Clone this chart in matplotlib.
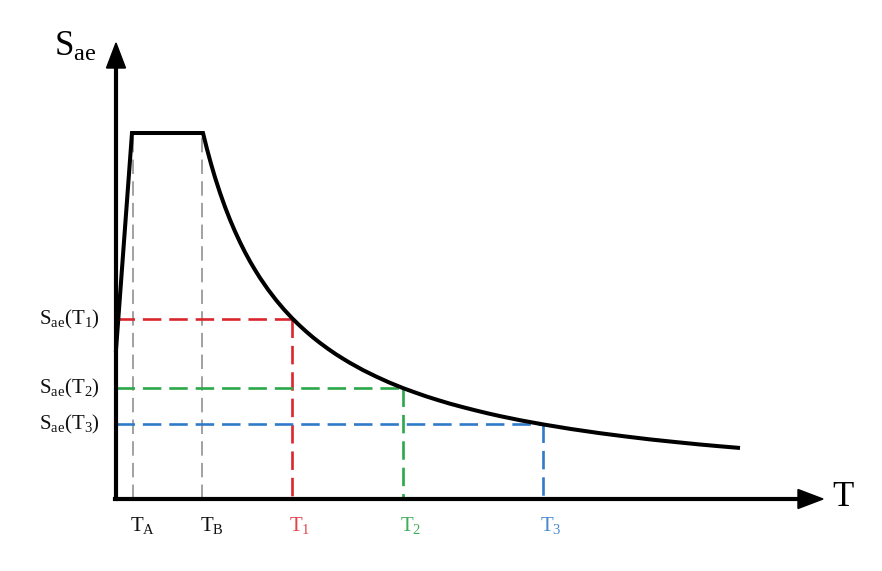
import matplotlib
matplotlib.use("Agg")
import matplotlib.pyplot as plt
from matplotlib.patches import Polygon

plt.rcParams['font.family'] = ['Liberation Serif', 'DejaVu Serif']
plt.rcParams['mathtext.fontset'] = 'custom'
plt.rcParams['mathtext.rm'] = 'Liberation Serif'
plt.rcParams['mathtext.it'] = 'Liberation Serif'

# Spectrum curve (T, Sae)
T_curve = [0.00, 0.16, 0.87, 0.91, 0.95, 0.99, 1.04, 1.09, 1.14, 1.19, 1.24, 1.29,
           1.34, 1.39, 1.44, 1.52, 1.60, 1.68, 1.76, 1.83, 1.90, 1.97, 2.04, 2.12,
           2.20, 2.27, 2.34, 2.47, 2.60, 2.73, 2.87, 2.98, 3.10, 3.22, 3.34, 3.47,
           3.60, 3.72, 3.84, 4.05, 4.27, 4.55, 4.84, 5.09, 5.34, 5.59, 5.84, 6.03,
           6.22]
Sae_curve = [1.490, 3.660, 3.660, 3.499, 3.352, 3.216, 3.062, 2.921, 2.793, 2.676,
             2.568, 2.468, 2.376, 2.291, 2.211, 2.095, 1.990, 1.895, 1.809, 1.740,
             1.676, 1.616, 1.561, 1.502, 1.447, 1.403, 1.361, 1.289, 1.225, 1.166,
             1.109, 1.069, 1.027, 0.989, 0.953, 0.918, 0.885, 0.856, 0.829, 0.786,
             0.746, 0.700, 0.658, 0.626, 0.596, 0.570, 0.545, 0.528, 0.512]

TA, TB = 0.17, 0.86
T_marks = [1.76, 2.87, 4.27]
Sae_marks = [1.80, 1.11, 0.75]
mark_colors = ['#D9262C', '#2BA84A', '#2F7BC8']
label_colors = ['#E0464C', '#3DAE5A', '#4A8ACC']
T_labels = [r'$\mathrm{T_1}$', r'$\mathrm{T_2}$', r'$\mathrm{T_3}$']
S_labels = [r'$\mathrm{S_{ae}(T_1)}$', r'$\mathrm{S_{ae}(T_2)}$', r'$\mathrm{S_{ae}(T_3)}$']

fig = plt.figure(figsize=(8.82, 5.71), dpi=100)
ax = fig.add_axes([0, 0, 1, 1])
ax.set_xlim(-1.16, 7.66)
ax.set_ylim(-0.72, 4.99)
ax.axis('off')

# gray dashed guides at TA, TB
for t in (TA, TB):
    ax.plot([t, t], [0, 3.66], color='#9a9a9a', lw=1.3, dashes=(8, 4), zorder=1)

# colored dashed guides
for t, s, c in zip(T_marks, Sae_marks, mark_colors):
    ax.plot([0, t], [s, s], color=c, lw=1.9, dashes=(7, 3), zorder=2)
    ax.plot([t, t], [s, 0], color=c, lw=1.9, dashes=(7, 3), zorder=2)

# curve
ax.plot(T_curve, Sae_curve, color='black', lw=2.9, solid_joinstyle='miter', zorder=4)

# axes with arrows
ax.plot([0, 0], [0, 4.35], color='black', lw=3.0, solid_capstyle='butt', zorder=5)
ax.plot([0, 6.85], [0, 0], color='black', lw=3.0, solid_capstyle='butt', zorder=5)
ax.plot([-0.01, 0], [0, 0], color='black', lw=3.0, zorder=5)
ax.add_patch(Polygon([[-0.095, 4.31], [0.095, 4.31], [0, 4.56]], closed=True,
                     color='black', zorder=6))
ax.add_patch(Polygon([[6.82, 0.095], [6.82, -0.095], [7.07, 0]], closed=True,
                     color='black', zorder=6))

# axis titles
ax.text(-0.41, 4.52, r'$\mathrm{S_{ae}}$', fontsize=25, ha='center', va='center')
ax.text(7.27, 0.02, 'T', fontsize=25, ha='center', va='center')

# bottom tick labels
ax.text(TA + 0.10, -0.27, r'$\mathrm{T_A}$', fontsize=15, ha='center', va='center', color='#111111')
ax.text(TB + 0.10, -0.27, r'$\mathrm{T_B}$', fontsize=15, ha='center', va='center', color='#111111')
for t, lab, c in zip(T_marks, T_labels, label_colors):
    ax.text(t + 0.08, -0.27, lab, fontsize=15, ha='center', va='center', color=c)

# left labels
for s, lab in zip(Sae_marks, S_labels):
    ax.text(-0.465, s, lab, fontsize=15, ha='center', va='center', color='#111111')

fig.savefig('out.png', dpi=100)
